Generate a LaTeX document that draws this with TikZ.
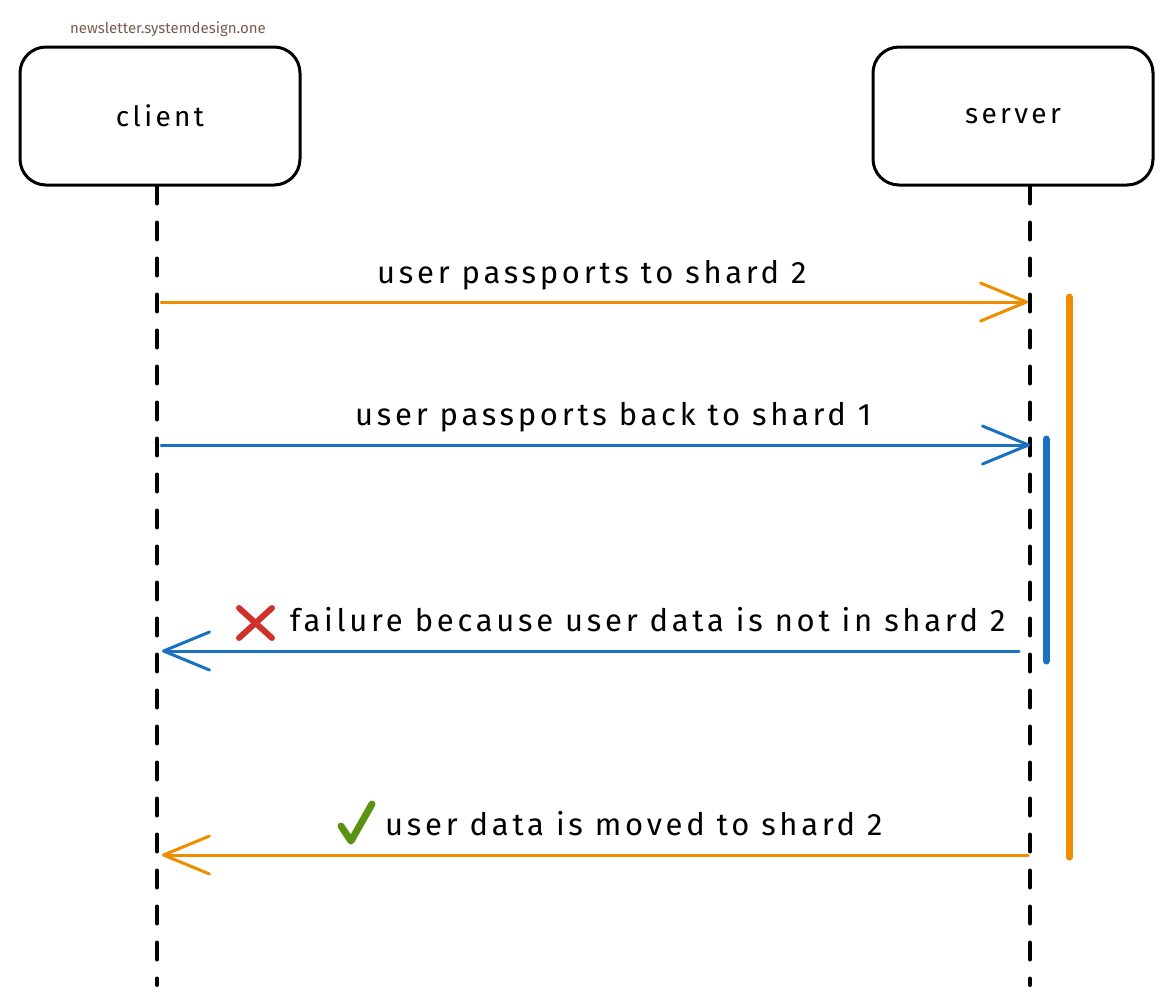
\documentclass[tikz,border=0pt]{standalone}
\usepackage{fontspec}
\setmainfont{Fira Sans}
\newfontfamily\handfont[LetterSpace=12]{Fira Sans}
\usetikzlibrary{arrows.meta,calc,positioning}
\definecolor{msgorange}{HTML}{F08C00}
\definecolor{msgblue}{HTML}{1971C2}
\definecolor{failred}{HTML}{D0312D}
\definecolor{okgreen}{HTML}{5A9214}
\definecolor{markbrown}{HTML}{7A5A50}

\begin{document}
\begin{tikzpicture}[x=1pt,y=-1pt,
  actor/.style={draw,line width=3pt,rounded corners=26pt,minimum width=280pt,minimum height=138pt,font=\handfont\fontsize{28}{32}\selectfont},
  lifeline/.style={line width=4pt,dash pattern=on 17pt off 19pt,line cap=round},
  msg/.style={line width=3pt,line cap=round,-{Straight Barb[length=46pt,width=38pt,line cap=round,line join=round]}},
  msglabel/.style={font=\handfont\fontsize{31}{35}\selectfont,inner sep=0pt,anchor=base west},
  actbar/.style={line width=7pt,line cap=round}]
\useasboundingbox (0,0) rectangle (1174,1005);
\node[font=\rmfamily\fontsize{15}{17}\selectfont,text=markbrown] (mark) at (168,29) {newsletter.systemdesign.one};
\node[actor] (client) at (160,116) {client};
\node[actor] (server) at (1013,116) {server};
\coordinate (clientend) at (157,985);
\coordinate (serverend) at (1030,985);
\draw[lifeline] (client.south -| clientend) -- (clientend);
\draw[lifeline] (server.south -| serverend) -- (serverend);
% activation bars
\coordinate (otop) at (1069,297);
\coordinate (obot) at (1069,857);
\coordinate (btop) at (1046,439);
\coordinate (bbot) at (1046,661);
\draw[actbar,msgorange] (otop) -- (obot);
\draw[actbar,msgblue] (btop) -- (bbot);
% messages
\coordinate (c1) at (161,302);
\coordinate (s1) at (1028,302);
\coordinate (c2) at (161,445);
\coordinate (s2) at (1030,445);
\coordinate (c3) at (162,651);
\coordinate (s3) at (1019,651);
\coordinate (c4) at (162,855);
\coordinate (s4) at (1028,855);
\draw[msg,msgorange] (c1) -- (s1);
\node[msglabel] (l1) at (377,283) {user passports to shard 2};
\draw[msg,msgblue] (c2) -- (s2);
\node[msglabel] (l2) at (355,425) {user passports back to shard 1};
\draw[msg,msgblue] (s3) -- (c3);
\node[msglabel] (l3) at (290,631) {failure because user data is not in shard 2};
\draw[msg,msgorange] (s4) -- (c4);
\node[msglabel] (l4) at (385,835) {user data is moved to shard 2};
% marks
\draw[failred,line width=6pt,line cap=round] (239,608) -- (272,638) (239,638) -- (272,608);
\draw[okgreen,line width=7pt,line cap=round,line join=round] (341,826) -- (351,841) -- (372,804);
\end{tikzpicture}
\end{document}
